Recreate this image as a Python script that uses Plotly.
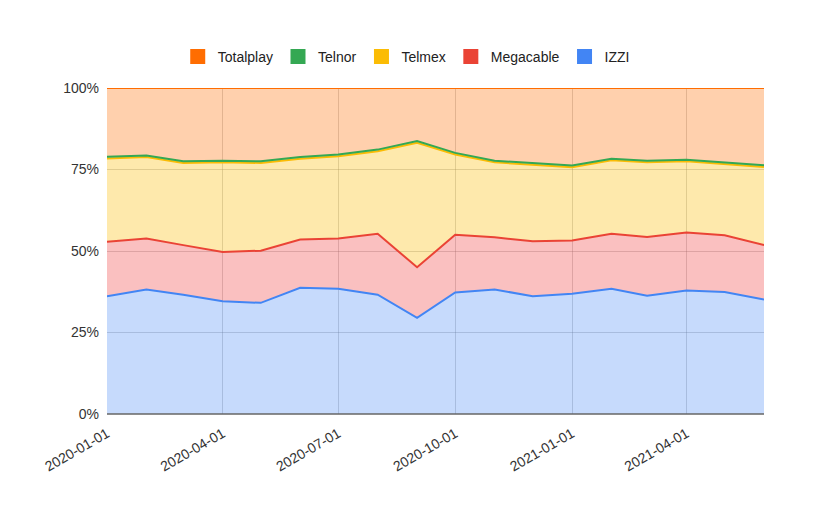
import plotly.graph_objects as go

dates = ["2020-01-01","2020-02-01","2020-03-01","2020-04-01","2020-05-01","2020-06-01",
         "2020-07-01","2020-08-01","2020-09-01","2020-10-01","2020-11-01","2020-12-01",
         "2021-01-01","2021-02-01","2021-03-01","2021-04-01","2021-05-01","2021-06-01"]

izzi      = [36.1,38.2,36.6,34.6,34.1,38.7,38.4,36.6,29.5,37.3,38.2,36.1,36.9,38.4,36.3,37.9,37.4,35.1]
megacable = [16.7,15.6,15.2,15.1,16.0,14.8,15.4,18.7,15.5,17.7,16.0,16.9,16.3,16.9,18.0,17.8,17.4,16.7]
telmex    = [25.6,25.0,25.2,27.5,26.9,24.8,25.3,25.3,38.2,24.6,23.0,23.5,22.5,22.5,22.9,21.8,21.8,24.0]
telnor    = [0.5]*18
totalplay = [21.1,20.7,22.5,22.3,22.5,21.2,20.4,18.9,16.3,19.9,22.3,23.0,23.8,21.7,22.3,22.0,22.9,23.7]

tick_vals = ["2020-01-01","2020-04-01","2020-07-01","2020-10-01","2021-01-01","2021-04-01"]
y_ticks = [0, 25, 50, 75, 100]
y_text = ["0%", "25%", "50%", "75%", "100%"]

series = [
    ("IZZI", izzi, "#4285F4", "rgba(66,133,244,0.30)"),
    ("Megacable", megacable, "#EA4335", "rgba(240,60,60,0.32)"),
    ("Telmex", telmex, "#FBBC04", "rgba(251,188,4,0.33)"),
    ("Telnor", telnor, "#34A853", "rgba(52,168,83,0.30)"),
    ("Totalplay", totalplay, "#FF6D01", "rgba(255,109,1,0.32)"),
]

fig = go.Figure()
for name, vals, col, fillc in series:
    fig.add_trace(go.Scatter(
        x=dates, y=vals, name=name, mode="lines", stackgroup="one", groupnorm="percent",
        line=dict(color=col, width=2), fillcolor=fillc, showlegend=False, hoverinfo="skip"))

for name, vals, col, fillc in series:
    fig.add_trace(go.Scatter(
        x=[None], y=[None], name=name, mode="markers",
        marker=dict(symbol="square", size=15, color=col), showlegend=True))

fig.update_layout(
    width=824, height=505,
    margin=dict(l=107, r=60, t=88, b=91),
    paper_bgcolor="white", plot_bgcolor="white",
    font=dict(family="Liberation Sans, Arial, sans-serif", size=14, color="#333333"),
    legend=dict(orientation="h", traceorder="reversed", xref="container", yref="container",
                x=0.493, xanchor="center", y=1 - 57/505, yanchor="middle",
                font=dict(size=14, color="#222222"), itemwidth=30, tracegroupgap=0),
    xaxis=dict(type="date", range=[dates[0], dates[-1]], tickvals=tick_vals, ticktext=tick_vals,
               tickangle=-30, showgrid=True, gridcolor="rgba(120,120,120,0.32)", gridwidth=1,
               showline=False, zeroline=False, ticks="", automargin=False, ticklabelstandoff=8,
               tickfont=dict(size=14, color="#333333")),
    yaxis=dict(range=[0, 100], tickvals=y_ticks, ticktext=y_text, showgrid=True,
               gridcolor="rgba(120,120,120,0.32)", zeroline=False, ticks="", automargin=False,
               ticklabelstandoff=7, tickfont=dict(size=14, color="#333333")),
)
fig.add_shape(type="line", xref="paper", yref="paper", x0=0, x1=1, y0=0, y1=0,
              line=dict(color="#666666", width=1.5))

fig.write_html("out.html")
